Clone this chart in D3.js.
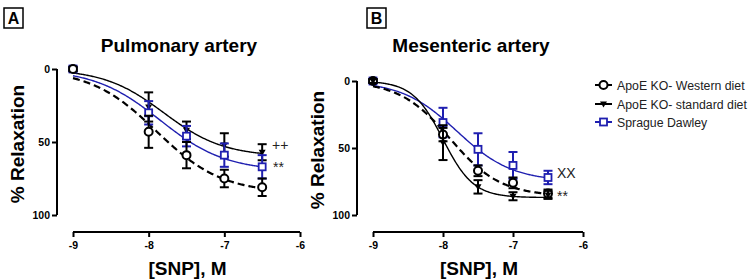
<!DOCTYPE html>
<html>
<head>
<meta charset="utf-8">
<script src="https://cdn.jsdelivr.net/npm/d3@7"></script>
<style>
  body { margin: 0; background: #fff; }
  svg { display: block; font-family: "Liberation Sans", Arial, sans-serif; }
</style>
</head>
<body>
<div id="chart"></div>
<script>
// log [SNP] concentrations
var logConc = [-9, -8, -7.5, -7, -6.5];
var xTicks = [-9, -8, -7, -6];
var yTicks = [0, 50, 100];

var seriesNames = ["ApoE KO- Western diet", "ApoE KO- standard diet", "Sprague Dawley"];

// Pulmonary artery (% relaxation, mean and error)
var pulmWestern = [0, 43, 59, 75, 81];
var pulmWesternErr = [1.5, 11, 9, 6, 6];
var pulmStandard = [0, 26, 42, 52, 57];
var pulmStandardErr = [1.5, 10, 6, 8, 5.5];
var pulmSD = [0, 30, 46, 59, 67];
var pulmSDErr = [1.5, 8, 7, 8, 8];

// Mesenteric artery
var mesWestern = [0, 40, 67, 76, 84];
var mesWesternErr = [1.5, 5, 4, 4, 3];
var mesStandard = [0, 46, 79, 86, 85];
var mesStandardErr = [1.5, 13, 5, 3, 3];
var mesSD = [0, 31, 51, 63, 72];
var mesSDErr = [1.5, 11, 12, 10, 5];

// sigmoid fit parameters: [top, logEC50, hill slope]
var pulmWesternFit = [85, -7.9, 1];
var pulmStandardFit = [60, -7.8, 1.1];
var pulmSDFit = [70, -7.85, 1];
var mesWesternFit = [86, -7.9, 1.2];
var mesStandardFit = [87, -8.0, 2];
var mesSDFit = [75, -7.8, 1.1];

var blue = "#1f1fb0";

function init() {
    var svg = d3.select("#chart").append("svg")
        .attr("width", 749)
        .attr("height", 280);

    var panels = [
        {
            letter: "A", title: "Pulmonary artery", boxX: 4, titleX: 179,
            x0: 73, x1: 300, axisX: 57, yTop: 69, yBot: 215, xAxisY: 232,
            ylabX: 17, marks: [["++", 272, 145], ["**", 273, 167]],
            series: [
                {vals: pulmStandard, err: pulmStandardErr, fit: pulmStandardFit, kind: "tri"},
                {vals: pulmSD, err: pulmSDErr, fit: pulmSDFit, kind: "sq"},
                {vals: pulmWestern, err: pulmWesternErr, fit: pulmWesternFit, kind: "circ"}
            ]
        },
        {
            letter: "B", title: "Mesenteric artery", boxX: 367, titleX: 471,
            x0: 373, x1: 583, axisX: 357, yTop: 81, yBot: 215, xAxisY: 232,
            ylabX: 317, marks: [["XX", 557, 173], ["**", 557, 196]],
            series: [
                {vals: mesSD, err: mesSDErr, fit: mesSDFit, kind: "sq"},
                {vals: mesWestern, err: mesWesternErr, fit: mesWesternFit, kind: "circ"},
                {vals: mesStandard, err: mesStandardErr, fit: mesStandardFit, kind: "tri"}
            ]
        }
    ];

    panels.forEach(function(p) {
        var g = svg.append("g");

        var xScale = d3.scaleLinear().domain([-9, -6]).range([p.x0, p.x1]);
        var yScale = d3.scaleLinear().domain([0, 100]).range([p.yTop, p.yBot]);

        // panel letter box
        g.append("rect")
            .attr("x", p.boxX).attr("y", 8)
            .attr("width", 19).attr("height", 20)
            .attr("fill", "none").attr("stroke", "#000").attr("stroke-width", 1.5);
        g.append("text")
            .attr("x", p.boxX + 9.5).attr("y", 24)
            .attr("text-anchor", "middle")
            .attr("font-size", 16).attr("font-weight", "bold")
            .text(p.letter);

        // title
        g.append("text")
            .attr("x", p.titleX).attr("y", 52)
            .attr("text-anchor", "middle")
            .attr("font-size", 19).attr("font-weight", "bold")
            .text(p.title);

        // y axis (0 on top)
        var yAxis = d3.axisLeft(yScale).tickValues(yTicks).tickSize(5).tickPadding(2);
        var ya = g.append("g")
            .attr("transform", "translate(" + p.axisX + ",0)")
            .call(yAxis);
        ya.select(".domain").attr("stroke-width", 2).attr("d", "M0," + p.yTop + "V" + p.yBot);
        ya.selectAll(".tick line").attr("stroke-width", 2);
        ya.selectAll("text").attr("font-size", 10.5).attr("font-weight", "bold")
            .attr("font-family", "Liberation Sans, Arial, sans-serif");

        // x axis, offset below
        var xAxis = d3.axisBottom(xScale).tickValues(xTicks).tickSize(5).tickPadding(5)
            .tickFormat(function(d) { return String(d); });
        var xa = g.append("g")
            .attr("transform", "translate(0," + p.xAxisY + ")")
            .call(xAxis);
        xa.select(".domain").attr("stroke-width", 2).attr("d", "M" + p.x0 + ",0H" + p.x1);
        xa.selectAll(".tick line").attr("stroke-width", 2);
        xa.selectAll("text").attr("font-size", 10.5).attr("font-weight", "bold")
            .attr("font-family", "Liberation Sans, Arial, sans-serif");

        // axis titles
        g.append("text")
            .attr("transform", "translate(" + (p.ylabX + 7) + "," + ((p.yTop + p.yBot) / 2 + 2) + ") rotate(-90)")
            .attr("text-anchor", "middle")
            .attr("font-size", 19).attr("font-weight", "bold")
            .text("% Relaxation");
        g.append("text")
            .attr("x", (p.x0 + p.x1) / 2 + 1).attr("y", 275)
            .attr("text-anchor", "middle")
            .attr("font-size", 19).attr("font-weight", "bold")
            .text("[SNP], M");

        // fitted curves
        var xs = d3.range(0, 201).map(function(i) { return -9 + i * 2.5 / 200; });
        p.series.forEach(function(s) {
            var top = s.fit[0], ec = s.fit[1], h = s.fit[2];
            var line = d3.line()
                .x(function(d) { return xScale(d); })
                .y(function(d) { return yScale(top / (1 + Math.pow(10, (ec - d) * h))); });
            g.append("path")
                .datum(xs)
                .attr("d", line)
                .attr("fill", "none")
                .attr("stroke", s.kind == "sq" ? blue : "#000")
                .attr("stroke-width", s.kind == "circ" ? 2.2 : 1.4)
                .attr("stroke-dasharray", s.kind == "circ" ? "7 4" : null);
        });

        // error bars and markers
        p.series.forEach(function(s) {
            var col = s.kind == "sq" ? blue : "#000";
            s.vals.forEach(function(v, i) {
                var cx = xScale(logConc[i]);
                var e = s.err[i];
                var lo = yScale(v - e), hi = yScale(v + e);
                g.append("line").attr("x1", cx).attr("x2", cx).attr("y1", lo).attr("y2", hi)
                    .attr("stroke", col).attr("stroke-width", 2);
                [lo, hi].forEach(function(yy) {
                    g.append("line").attr("x1", cx - 4.5).attr("x2", cx + 4.5)
                        .attr("y1", yy).attr("y2", yy)
                        .attr("stroke", col).attr("stroke-width", 2);
                });
                drawMarker(g, s.kind, cx, yScale(v));
            });
        });

        // significance marks
        p.marks.forEach(function(m) {
            g.append("text")
                .attr("x", m[1]).attr("y", m[2] + 5)
                .attr("font-size", 14)
                .attr("fill", "#222")
                .text(m[0]);
        });
    });

    // legend
    var kinds = ["circ", "tri", "sq"];
    var legY = [85, 104, 122];
    seriesNames.forEach(function(name, i) {
        var col = kinds[i] == "sq" ? blue : "#000";
        svg.append("line")
            .attr("x1", 595).attr("x2", 612)
            .attr("y1", legY[i]).attr("y2", legY[i])
            .attr("stroke", col).attr("stroke-width", 2);
        drawMarker(svg, kinds[i], 603.5, legY[i]);
        svg.append("text")
            .attr("x", 617).attr("y", legY[i] + 4.5)
            .attr("font-size", 12.3)
            .attr("fill", "#222")
            .text(name);
    });
}

function drawMarker(g, kind, x, y) {
    if (kind == "circ") {
        g.append("circle").attr("cx", x).attr("cy", y).attr("r", 4)
            .attr("fill", "#fff").attr("stroke", "#000").attr("stroke-width", 2);
    } else if (kind == "sq") {
        g.append("rect").attr("x", x - 3.5).attr("y", y - 3.5)
            .attr("width", 7).attr("height", 7)
            .attr("fill", "#fff").attr("stroke", blue).attr("stroke-width", 1.8);
    } else {
        g.append("path")
            .attr("d", "M" + (x - 3.5) + "," + (y - 2.5) + "L" + (x + 3.5) + "," + (y - 2.5) + "L" + x + "," + (y + 3.5) + "Z")
            .attr("fill", "#000");
    }
}

window.onload = init;
</script>
</body>
</html>
